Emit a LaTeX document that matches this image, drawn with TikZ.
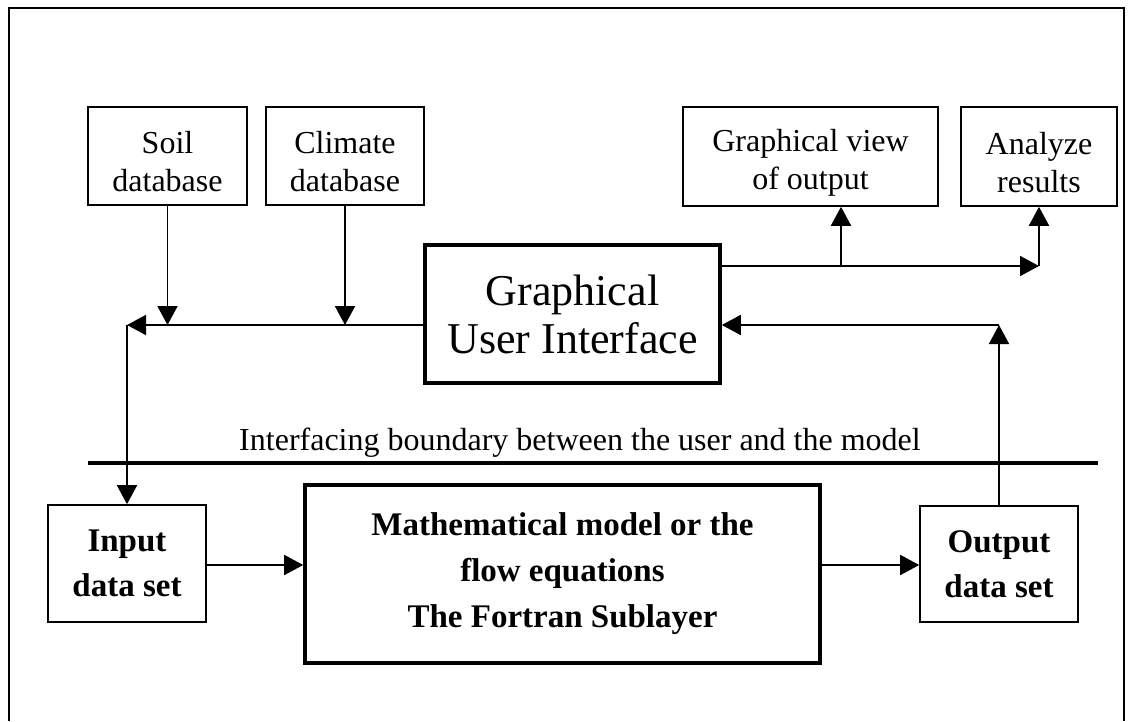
\documentclass[tikz,border=0pt]{standalone}
\usepackage{fontspec}
\setmainfont{Liberation Serif}
\usetikzlibrary{arrows.meta}

\begin{document}
\begin{tikzpicture}[x=1pt,y=-1pt,
	smallbox/.style={draw,line width=1.6pt,inner sep=0pt,align=center,font=\fontsize{32}{38}\selectfont},
	bigbox/.style={draw,line width=3.6pt,inner sep=0pt,align=center},
	link/.style={line width=1.8pt,-{Triangle[length=19pt,width=20pt]}},
	plain/.style={line width=1.8pt}]
	\useasboundingbox (0,0) rectangle (1128,721);
	% outer frame, open at the bottom
	\draw[line width=1.6pt] (9,721) -- (9,8) -- (1124,8) -- (1124,721);

	% user side
	\node[smallbox,minimum width=159pt,minimum height=98pt,text height=72pt] (soil) at (167.5,156){Soil\\database};
	\node[smallbox,minimum width=158pt,minimum height=98pt,text height=72pt] (climate) at (345,156){Climate\\database};
	\node[smallbox,minimum width=255pt,minimum height=99pt,text height=72pt] (gview) at (810.5,156.5){Graphical view\\of output};
	\node[smallbox,minimum width=156pt,minimum height=99pt,text height=72pt] (analyze) at (1039,156.5){Analyze\\results};
	\node[bigbox,minimum width=295pt,minimum height=138pt,font=\fontsize{44}{48}\selectfont] (gui) at (572.5,314){Graphical\\User Interface};

	% boundary between user and model
	\coordinate (bleft) at (88,463);
	\coordinate (bright) at (1098,463);
	\draw[line width=3.2pt] (bleft) -- (bright);
	\node[font=\fontsize{32}{38}\selectfont,anchor=base] (blabel) at (580,450){Interfacing boundary between the user and the model};

	% model side
	\node[smallbox,minimum width=158pt,minimum height=117pt,font=\bfseries\fontsize{33}{45}\selectfont] (input) at (127,563.5){Input\\data set};
	\node[bigbox,minimum width=515pt,minimum height=178pt,font=\bfseries\fontsize{33}{46}\selectfont] (model) at (562.5,574){Mathematical model or the\\flow equations\\The Fortran Sublayer};
	\node[smallbox,minimum width=158pt,minimum height=116pt,font=\bfseries\fontsize{33}{45}\selectfont] (output) at (999,564){Output\\data set};

	% data going down to the model
	\coordinate (lcorner) at (127,325);
	\draw[link] (gui.west |- lcorner) -- (lcorner);
	\draw[link] (lcorner) -- (input.north);
	\draw[link] (soil.south) -- (soil.south |- lcorner);
	\draw[link] (climate.south) -- (climate.south |- lcorner);
	\draw[link] (input.east |- 0,565) -- (model.west |- 0,565);
	\draw[link] (model.east |- 0,565) -- (output.west |- 0,565);

	% results coming back up
	\coordinate (rcorner) at (999,325);
	\draw[link] (output.north) -- (rcorner);
	\draw[link] (rcorner) -- (gui.east |- rcorner);
	\coordinate (rsplit) at (841,266);
	\coordinate (rend) at (1039,266);
	\draw[plain] (gui.east |- rsplit) -- (rsplit);
	\draw[link] (rsplit) -- (rend);
	\draw[link] (rsplit) -- (rsplit |- gview.south);
	\draw[link] (rend) -- (analyze.south);
\end{tikzpicture}
\end{document}
